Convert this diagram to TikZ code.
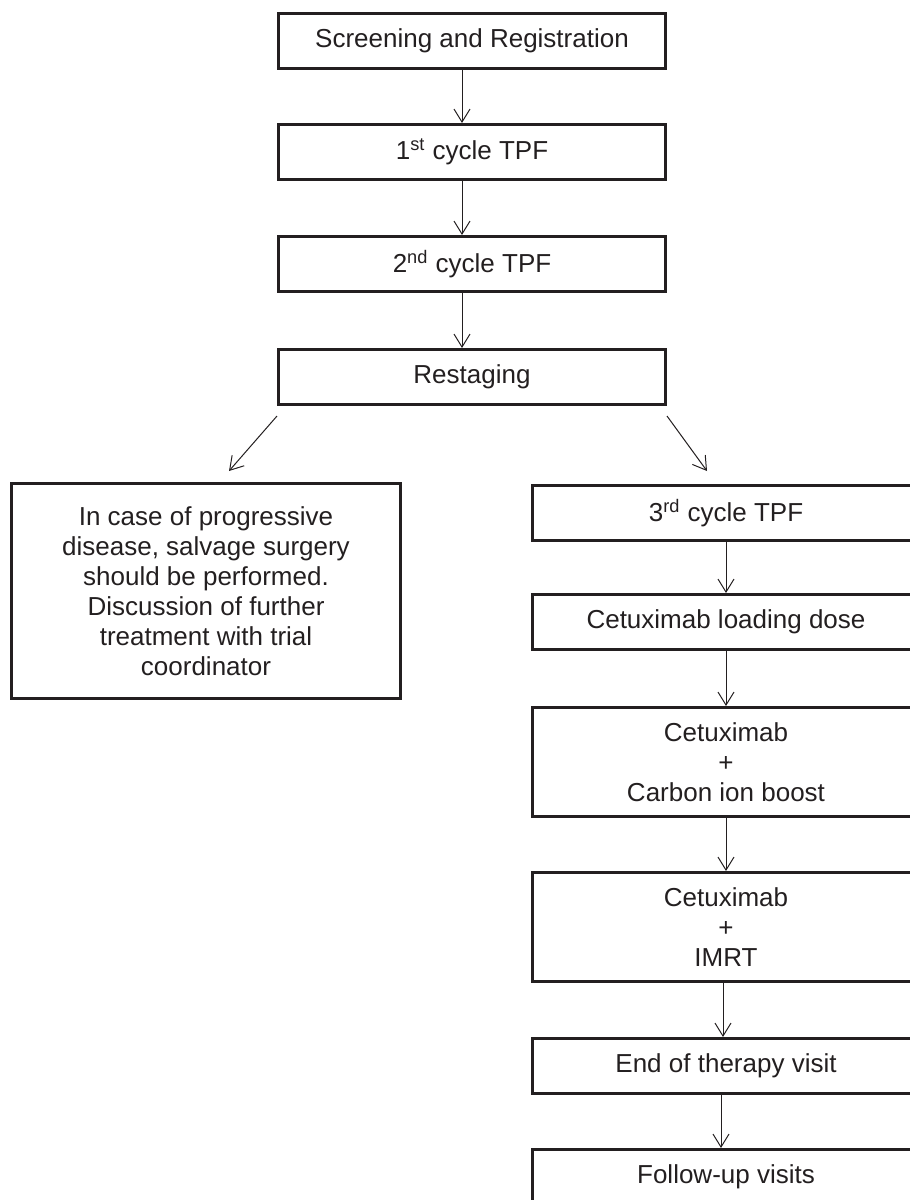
\documentclass[tikz,border=0pt]{standalone}
\usepackage{fontspec}
\setmainfont{Liberation Sans}
\usetikzlibrary{arrows.meta}
\definecolor{ink}{HTML}{231F20}

\begin{document}
\begin{tikzpicture}[x=0.5pt, y=-0.5pt,
    stepbox/.style={draw=ink, line width=1.6pt, minimum width=193.4pt, minimum height=27.4pt,
        inner sep=0pt, align=center, text=ink, font=\fontsize{13}{15}\selectfont},
    tallbox/.style={stepbox, minimum height=54.4pt},
    flow/.style={draw=ink, line width=0.5pt, -{Straight Barb[length=6.5pt,width=8pt]}}]
    \useasboundingbox (0,0) rectangle (910,1200);
    \clip (0,0) rectangle (910,1200);
    \node[stepbox] (screen) at (472,41) {Screening and Registration};
    \node[stepbox] (cyc1) at (472,152) {1\textsuperscript{st} cycle TPF};
    \node[stepbox] (cyc2) at (472,264) {2\textsuperscript{nd} cycle TPF};
    \node[stepbox] (restage) at (472,377) {Restaging};
    \node[stepbox, minimum width=194.4pt, minimum height=107.4pt] (salvage) at (206,591)
        {In case of progressive\\disease, salvage surgery\\should be performed.\\Discussion of further\\treatment with trial\\coordinator};
    \node[stepbox] (cyc3) at (726,513) {3\textsuperscript{rd} cycle TPF};
    \node[stepbox] (load) at (726,622) {Cetuximab loading dose};
    \node[tallbox] (carbon) at (726,762) {Cetuximab\\+\\Carbon ion boost};
    \node[tallbox] (imrt) at (726,927) {Cetuximab\\+\\IMRT};
    \node[stepbox] (eot) at (726,1066) {End of therapy visit};
    \node[stepbox] (follow) at (726,1177) {Follow-up visits};
    \draw[flow] ([xshift=-5pt]screen.south) -- ([xshift=-5pt]cyc1.north);
    \draw[flow] ([xshift=-5pt]cyc1.south) -- ([xshift=-5pt]cyc2.north);
    \draw[flow] ([xshift=-5pt]cyc2.south) -- ([xshift=-5pt]restage.north);
    \coordinate (splitL) at ([yshift=-5pt]restage.south west);
    \coordinate (splitR) at ([yshift=-5pt]restage.south east);
    \coordinate (endL) at ([xshift=11.5pt, yshift=5.5pt]salvage.north);
    \coordinate (endR) at ([xshift=-9.5pt, yshift=6.5pt]cyc3.north);
    \draw[flow] (splitL) -- (endL);
    \draw[flow] (splitR) -- (endR);
    \draw[flow] (cyc3) -- (load);
    \draw[flow] (load) -- (carbon);
    \draw[flow] (carbon) -- (imrt);
    \draw[flow] ([xshift=-1.5pt]imrt.south) -- ([xshift=-1.5pt]eot.north);
    \draw[flow] ([xshift=-2.5pt]eot.south) -- ([xshift=-2.5pt]follow.north);
\end{tikzpicture}
\end{document}
